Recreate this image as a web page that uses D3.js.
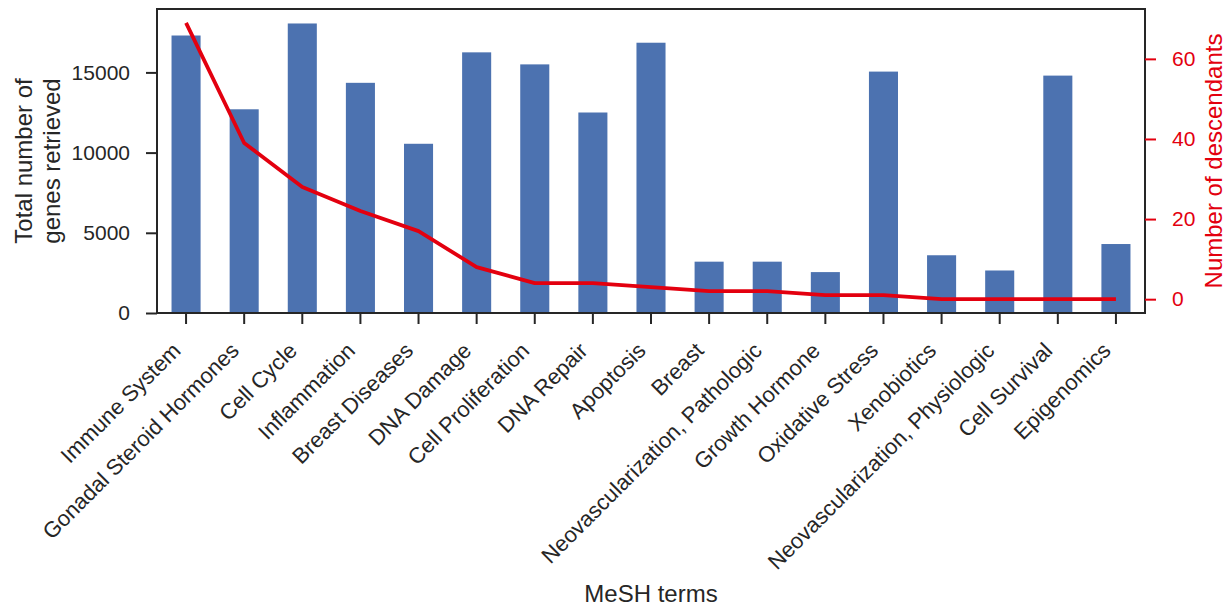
<!DOCTYPE html>
<html>
<head>
<meta charset="utf-8">
<script src="https://cdn.jsdelivr.net/npm/d3@7"></script>
<style>
  html, body { margin: 0; padding: 0; background: #ffffff; }
  svg { display: block; font-family: "Liberation Sans", Arial, sans-serif; }
</style>
</head>
<body>
<svg id="chart" width="1227" height="607"></svg>
<script>
// MeSH terms and their statistics
const terms = [
  "Immune System", "Gonadal Steroid Hormones", "Cell Cycle", "Inflammation",
  "Breast Diseases", "DNA Damage", "Cell Proliferation", "DNA Repair",
  "Apoptosis", "Breast", "Neovascularization, Pathologic", "Growth Hormone",
  "Oxidative Stress", "Xenobiotics", "Neovascularization, Physiologic",
  "Cell Survival", "Epigenomics"
];
const genesRetrieved = [
  17300, 12700, 18050, 14350, 10550, 16250, 15500, 12500,
  16850, 3200, 3200, 2550, 15050, 3600, 2650, 14800, 4300
];
const descendants = [
  69, 39, 28, 22, 17, 8, 4, 4, 3, 2, 2, 1, 1, 0, 0, 0, 0
];
const leftTicks = [0, 5000, 10000, 15000];
const rightTicks = [0, 20, 40, 60];

const barColor = "#4c72b0";
const lineColor = "#e3000f";
const inkColor = "#262626";

const plot = { left: 157, right: 1145, top: 9, bottom: 313 };

const svg = d3.select("#chart");

const x = d3.scaleBand()
  .domain(terms)
  .range([plot.left, plot.right])
  .paddingInner(0.5)
  .paddingOuter(0.25);

const yLeftMax = d3.max(genesRetrieved) * 1.05;
const yLeft = d3.scaleLinear().domain([0, yLeftMax]).range([plot.bottom, plot.top]);

const dMax = d3.max(descendants), dMin = d3.min(descendants);
const dPad = (dMax - dMin) * 0.05;
const yRight = d3.scaleLinear().domain([dMin - dPad, dMax + dPad]).range([plot.bottom, plot.top]);

// bars
svg.append("g")
  .selectAll("rect")
  .data(terms)
  .join("rect")
  .attr("x", d => x(d))
  .attr("width", x.bandwidth())
  .attr("y", (d, i) => yLeft(genesRetrieved[i]))
  .attr("height", (d, i) => yLeft(0) - yLeft(genesRetrieved[i]))
  .attr("fill", barColor);

// descendants line
const line = d3.line()
  .x((d, i) => x(terms[i]) + x.bandwidth() / 2)
  .y(d => yRight(d));

svg.append("path")
  .datum(descendants)
  .attr("d", line)
  .attr("fill", "none")
  .attr("stroke", lineColor)
  .attr("stroke-width", 3.8)
  .attr("stroke-linejoin", "round")
  .attr("stroke-linecap", "butt");

// frame
svg.append("rect")
  .attr("x", plot.left)
  .attr("y", plot.top)
  .attr("width", plot.right - plot.left)
  .attr("height", plot.bottom - plot.top)
  .attr("fill", "none")
  .attr("stroke", inkColor)
  .attr("stroke-width", 2);

// left axis
const leftAxis = svg.append("g")
  .attr("transform", `translate(${plot.left},0)`)
  .call(d3.axisLeft(yLeft).tickValues(leftTicks).tickFormat(d3.format("d")).tickSize(11).tickPadding(16));
leftAxis.select(".domain").remove();
leftAxis.selectAll(".tick line").attr("stroke", inkColor).attr("stroke-width", 2);
leftAxis.selectAll(".tick text")
  .attr("fill", inkColor)
  .style("font-size", "21px")
  .style("font-family", "Liberation Sans, Arial, sans-serif");

// right axis
const rightAxis = svg.append("g")
  .attr("transform", `translate(${plot.right},0)`)
  .call(d3.axisRight(yRight).tickValues(rightTicks).tickFormat(d3.format("d")).tickSize(11).tickPadding(16));
rightAxis.select(".domain").remove();
rightAxis.selectAll(".tick line").attr("stroke", lineColor).attr("stroke-width", 2);
rightAxis.selectAll(".tick text")
  .attr("fill", lineColor)
  .style("font-size", "21px")
  .style("font-family", "Liberation Sans, Arial, sans-serif");

// bottom axis
const bottomAxis = svg.append("g")
  .attr("transform", `translate(0,${plot.bottom})`)
  .call(d3.axisBottom(x).tickSize(11).tickFormat(""));
bottomAxis.select(".domain").remove();
bottomAxis.selectAll(".tick line").attr("stroke", inkColor).attr("stroke-width", 2);

// rotated category labels
svg.append("g")
  .selectAll("text")
  .data(terms)
  .join("text")
  .attr("transform", d => `translate(${x(d) + x.bandwidth() / 2 - 4},352) rotate(-45)`)
  .attr("text-anchor", "end")
  .attr("fill", inkColor)
  .style("font-size", "22px")
  .text(d => d);

// axis titles
svg.append("text")
  .attr("transform", `translate(32,${(plot.top + plot.bottom) / 2}) rotate(-90)`)
  .attr("text-anchor", "middle")
  .attr("fill", inkColor)
  .style("font-size", "24px")
  .text("Total number of");
svg.append("text")
  .attr("transform", `translate(60,${(plot.top + plot.bottom) / 2}) rotate(-90)`)
  .attr("text-anchor", "middle")
  .attr("fill", inkColor)
  .style("font-size", "24px")
  .text("genes retrieved");

svg.append("text")
  .attr("transform", `translate(1222,${(plot.top + plot.bottom) / 2}) rotate(-90)`)
  .attr("text-anchor", "middle")
  .attr("fill", lineColor)
  .style("font-size", "24px")
  .text("Number of descendants");

svg.append("text")
  .attr("x", (plot.left + plot.right) / 2)
  .attr("y", 602)
  .attr("text-anchor", "middle")
  .attr("fill", inkColor)
  .style("font-size", "24px")
  .text("MeSH terms");
</script>
</body>
</html>
